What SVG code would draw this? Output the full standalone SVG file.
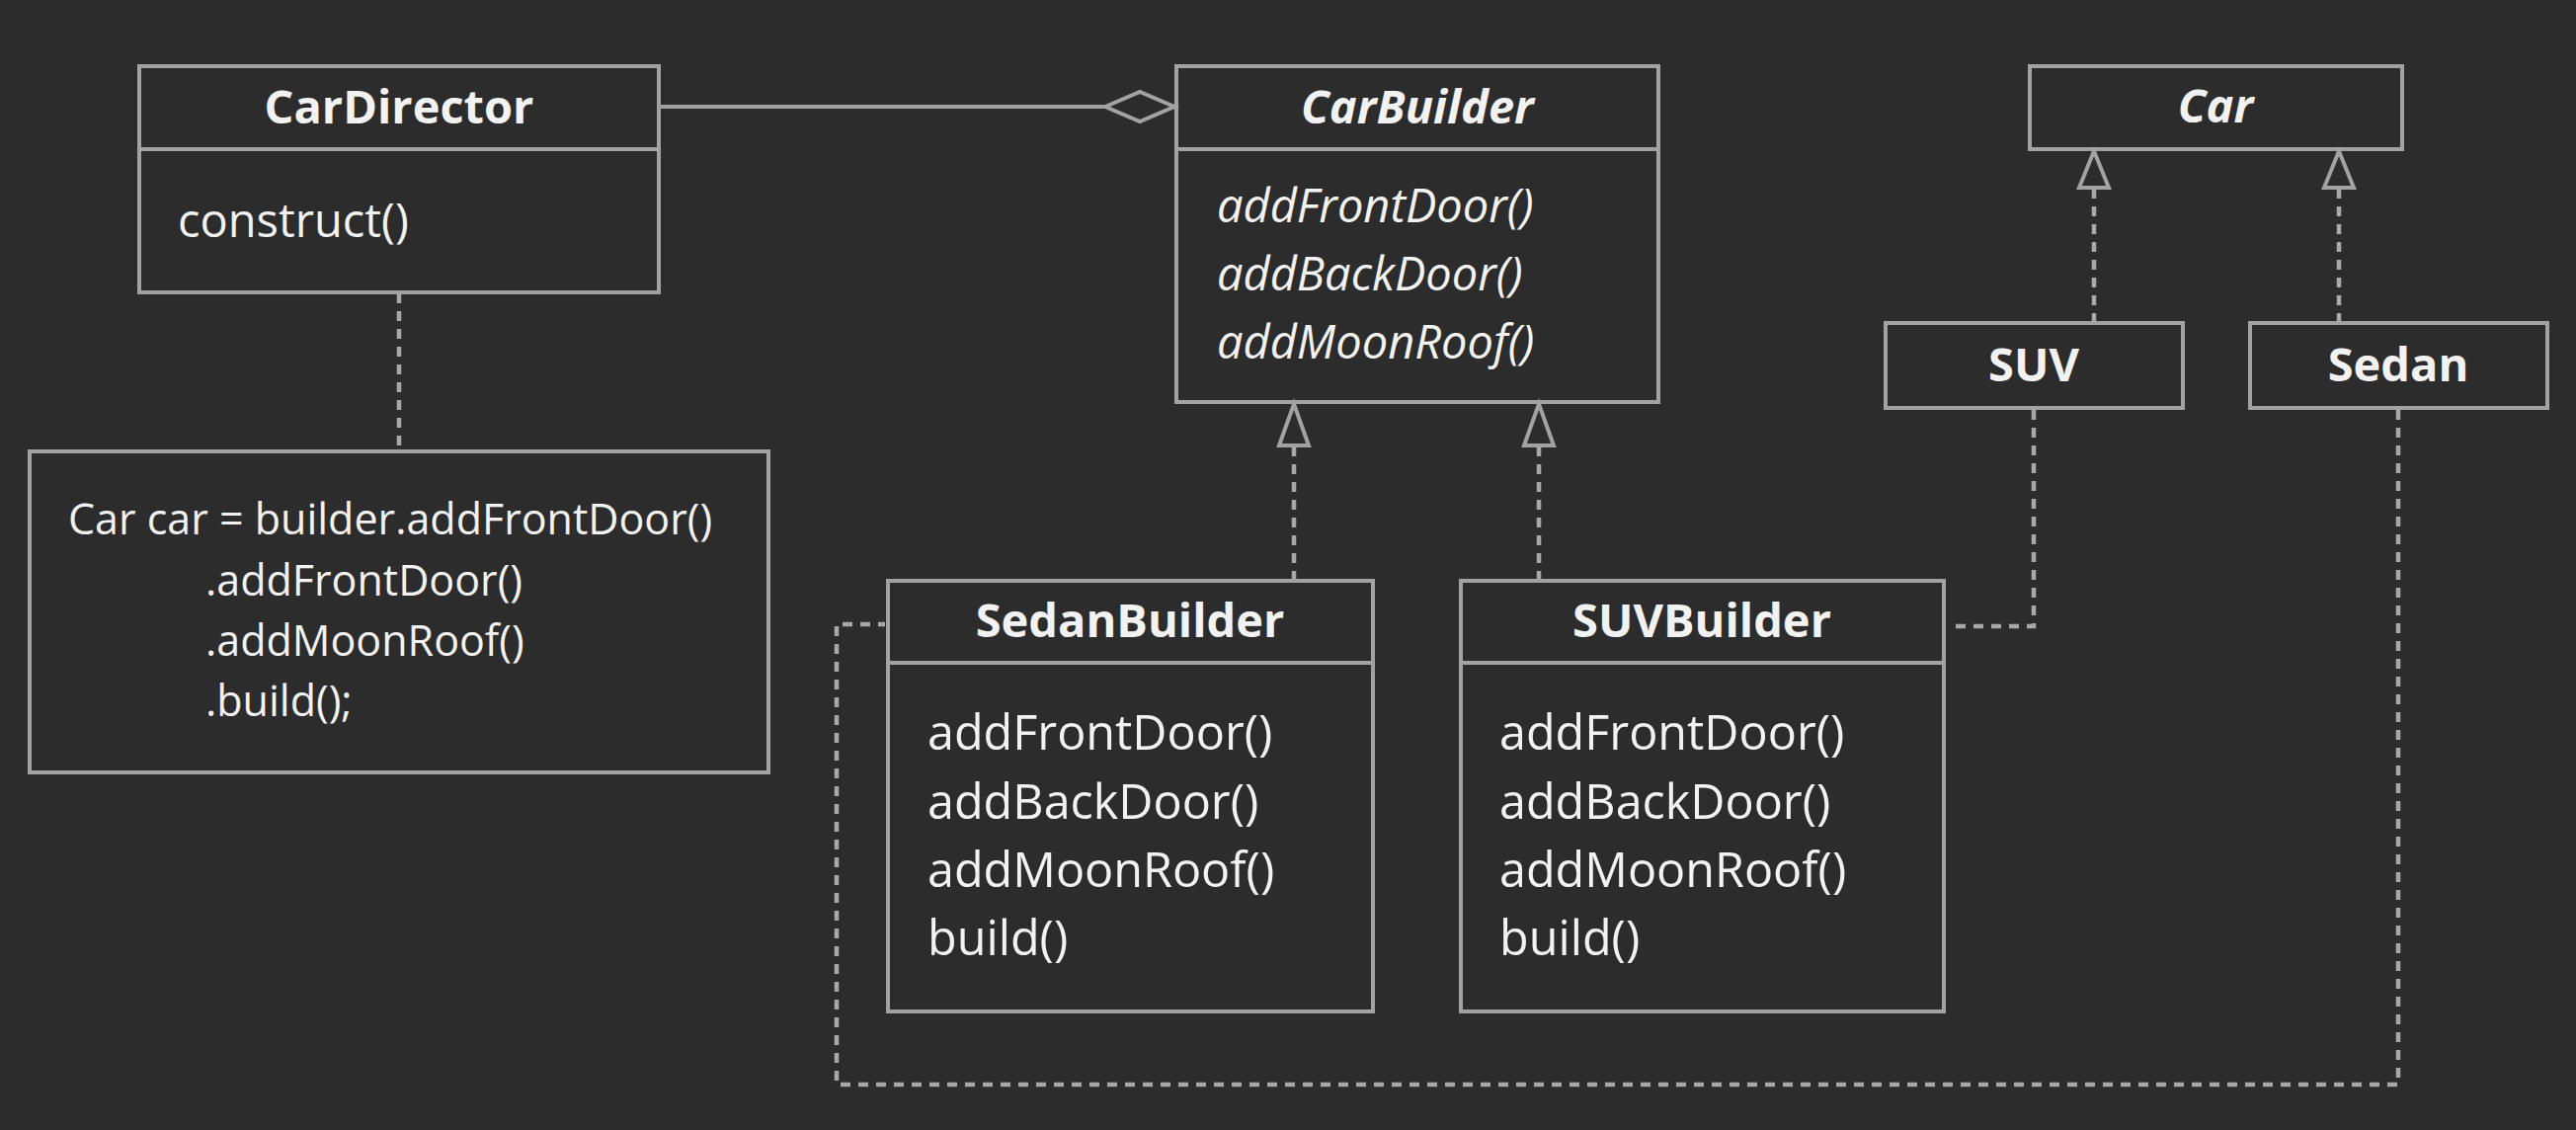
<svg xmlns="http://www.w3.org/2000/svg" width="2608" height="1144" viewBox="0 0 2608 1144">
<defs>
<style>
.box{fill:none;stroke:#a2a2a2;stroke-width:4}
.ln{fill:none;stroke:#a2a2a2;stroke-width:4}
.dash{fill:none;stroke:#a8a8a8;stroke-width:4.5;stroke-dasharray:10 8}
.tri{fill:#2c2c2c;stroke:#a2a2a2;stroke-width:4;stroke-linejoin:miter}
text{font-family:"Open Sans","Liberation Sans",sans-serif;fill:#f2f2f2}
.t{font-weight:bold;font-size:47px;text-anchor:middle}
.ti{font-weight:bold;font-style:italic;font-size:47px;text-anchor:middle}
.m{font-size:47px}
.mb{font-size:48.5px}
.mi{font-size:47px;font-style:italic}
.n{font-size:43px}
</style>
</defs>
<rect width="2608" height="1144" fill="#2c2c2c"/>

<g id="connectors">
  <line class="ln" x1="667" y1="108" x2="1119" y2="108"/>
  <polygon class="tri" points="1119,108 1154,93 1189,108 1154,123"/>
  <line class="dash" x1="404" y1="297" x2="404" y2="457"/>
  <line class="dash" x1="1310" y1="588" x2="1310" y2="451"/>
  <polygon class="tri" points="1310,409 1295,451 1325,451"/>
  <line class="dash" x1="1558" y1="588" x2="1558" y2="451"/>
  <polygon class="tri" points="1558,409 1543,451 1573,451"/>
  <line class="dash" x1="2120" y1="327" x2="2120" y2="190"/>
  <polygon class="tri" points="2120,153 2105,190 2135,190"/>
  <line class="dash" x1="2368" y1="327" x2="2368" y2="190"/>
  <polygon class="tri" points="2368,153 2353,190 2383,190"/>
  <polyline class="dash" points="2059,415 2059,634 1980,634"/>
  <polyline class="dash" points="2428,415 2428,1098 847,1098 847,632 896,632"/>
</g>

<g id="CarDirector">
  <rect class="box" x="141" y="67" width="526" height="229"/>
  <line class="ln" x1="141" y1="151" x2="667" y2="151"/>
  <text class="t" x="404" y="125">CarDirector</text>
  <text class="m" x="180" y="240">construct()</text>
</g>

<g id="note">
  <rect class="box" x="30" y="457" width="748" height="325"/>
  <text class="n" x="69" y="541">Car car = builder.addFrontDoor()</text>
  <text class="n" x="208" y="603">.addFrontDoor()</text>
  <text class="n" x="208" y="664">.addMoonRoof()</text>
  <text class="n" x="208" y="725">.build();</text>
</g>

<g id="CarBuilder">
  <rect class="box" x="1191" y="67" width="488" height="340"/>
  <line class="ln" x1="1191" y1="151" x2="1679" y2="151"/>
  <text class="ti" x="1435" y="125">CarBuilder</text>
  <text class="mi" x="1232" y="225">addFrontDoor()</text>
  <text class="mi" x="1232" y="294">addBackDoor()</text>
  <text class="mi" x="1232" y="363">addMoonRoof()</text>
</g>

<g id="Car">
  <rect class="box" x="2055" y="67" width="377" height="84"/>
  <text class="ti" x="2243" y="124">Car</text>
</g>

<g id="SUV">
  <rect class="box" x="1909" y="327" width="301" height="86"/>
  <text class="t" x="2059" y="386">SUV</text>
</g>

<g id="Sedan">
  <rect class="box" x="2278" y="327" width="301" height="86"/>
  <text class="t" x="2428" y="386">Sedan</text>
</g>

<g id="SedanBuilder">
  <rect class="box" x="899" y="588" width="491" height="436"/>
  <line class="ln" x1="899" y1="671" x2="1390" y2="671"/>
  <text class="t" x="1144" y="645">SedanBuilder</text>
  <text class="mb" x="939" y="759">addFrontDoor()</text>
  <text class="mb" x="939" y="829">addBackDoor()</text>
  <text class="mb" x="939" y="898">addMoonRoof()</text>
  <text class="mb" x="939" y="967">build()</text>
</g>

<g id="SUVBuilder">
  <rect class="box" x="1479" y="588" width="489" height="436"/>
  <line class="ln" x1="1479" y1="671" x2="1968" y2="671"/>
  <text class="t" x="1723" y="645">SUVBuilder</text>
  <text class="mb" x="1518" y="759">addFrontDoor()</text>
  <text class="mb" x="1518" y="829">addBackDoor()</text>
  <text class="mb" x="1518" y="898">addMoonRoof()</text>
  <text class="mb" x="1518" y="967">build()</text>
</g>
</svg>
